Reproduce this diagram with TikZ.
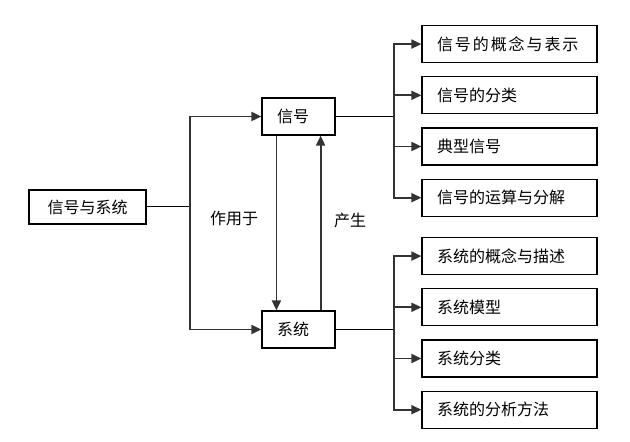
\documentclass[tikz,border=0pt]{standalone}
\usepackage{fontspec}
\newfontfamily\cjk{Noto Sans CJK SC}
\usetikzlibrary{calc,arrows.meta}

\tikzset{
  topic/.style={draw,line width=0.6pt,minimum height=18.5pt,inner xsep=7.5pt,align=left},
  item/.style={topic,text width=72.5pt,anchor=north,yshift=-6.5pt},
  arr/.style={-{Triangle[length=5pt,width=4.5pt]},line width=0.9pt,draw=black!80},
}

\begin{document}
\begin{tikzpicture}[x=1pt,y=1pt,font=\cjk\fontsize{8}{10}\selectfont]
  \useasboundingbox (0,0) rectangle (315,-221);
  \node[topic,minimum width=58.5pt,minimum height=17pt,align=center] (main) at (43.75,-103.5) {信号与系统};
  \node[topic,text width=21.5pt] (signal) at (149.25,-58.25) {信号};
  \node[topic,text width=21.5pt] (system) at (149.25,-164.75) {系统};
  % signal branch
  \node[item,yshift=6.5pt] (sig 1) at (254.75,-12.5) {{\addfontfeature{LetterSpace=12}信号的概念与表示}};
  \node[item] (sig 2) at (sig 1.south) {信号的分类};
  \node[item] (sig 3) at (sig 2.south) {典型信号};
  \node[item] (sig 4) at (sig 3.south) {信号的运算与分解};
  % system branch
  \node[item,yshift=6.5pt] (sys 1) at (254.75,-118.5) {系统的概念与描述};
  \node[item] (sys 2) at (sys 1.south) {系统模型};
  \node[item] (sys 3) at (sys 2.south) {系统分类};
  \node[item] (sys 4) at (sys 3.south) {系统的分析方法};
  % connectors
  \draw[line width=0.5pt] (main.east) -- ++(21.5,0) coordinate (split);
  \draw[arr] (split) |- (signal.west);
  \draw[arr] (split) |- (system.west);
  \draw[arr] ($ (signal.south west) + (7.5,0) $) -- ($ (system.north west) + (7.5,0) $);
  \draw[arr] ($ (system.north east) + (-7.5,0) $) -- ($ (signal.south east) + (-7.5,0) $);
  \node (acts) at (117,-109) {作用于};
  \node (yields) at (175,-110) {产生};
  \draw[line width=0.5pt] (signal.east) -- ++(29.25,0) coordinate (sig split);
  \draw[arr] (sig split) |- (sig 1.west);
  \draw[arr] (sig split) |- (sig 2.west);
  \draw[arr] (sig split) |- (sig 3.west);
  \draw[arr] (sig split) |- (sig 4.west);
  \draw[line width=0.5pt] (system.east) -- ++(29.25,0) coordinate (sys split);
  \draw[arr] (sys split) |- (sys 1.west);
  \draw[arr] (sys split) |- (sys 2.west);
  \draw[arr] (sys split) |- (sys 3.west);
  \draw[arr] (sys split) |- (sys 4.west);
\end{tikzpicture}
\end{document}
